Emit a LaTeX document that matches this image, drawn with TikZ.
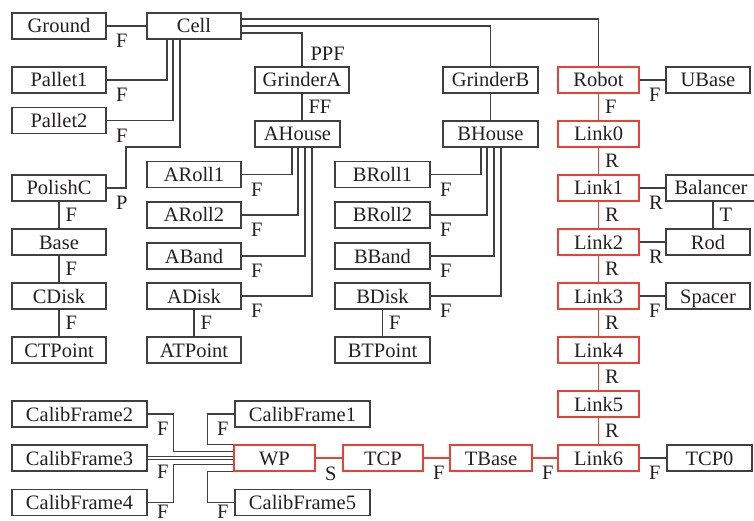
\documentclass[tikz,border=0pt]{standalone}
\usepackage{fontspec}
\setmainfont{Liberation Serif}
\usepackage{tikz}

\definecolor{ink}{RGB}{64,64,64}
\definecolor{txt}{RGB}{35,31,32}
\definecolor{linkred}{RGB}{236,64,52}

\tikzset{
  part/.style={draw=ink, line width=1.1pt, minimum height=26pt, inner sep=0pt,
    text height=14pt, text depth=0pt, text=txt, font=\fontsize{20.5}{24}\selectfont},
  wpart/.style={part, minimum width=94pt},
  rpart/.style={part, minimum width=84pt},
  cpart/.style={part, minimum width=135pt},
  link/.style={part, draw=linkred, minimum width=81pt},
  con/.style={draw=ink, line width=1.1pt},
  rcon/.style={draw=linkred, line width=1.1pt},
  jlab/.style={inner sep=0pt, text=txt, font=\fontsize{20.5}{24}\selectfont},
  hlab/.style={jlab, anchor=north west, xshift=9pt, yshift=-8pt},
  vlab/.style={jlab, anchor=west, xshift=6pt}
}

\begin{document}
\begin{tikzpicture}[x=1pt,y=-1pt]
\useasboundingbox (0,0) rectangle (754,521);
% cell and its left column
\node[wpart] (Ground) at (59,26) {Ground};
\node[wpart] (Cell) at (194,26) {Cell};
\node[wpart] (Pallet1) at (59,80) {Pallet1};
\node[wpart] (Pallet2) at (59,120.5) {Pallet2};
\node[wpart] (PolishC) at (59,188) {PolishC};
\node[wpart] (Base) at (59,242) {Base};
\node[wpart] (CDisk) at (59,296) {CDisk};
\node[wpart] (CTPoint) at (59,350) {CTPoint};
% grinder A
\node[wpart] (GrinderA) at (302,80) {GrinderA};
\node[part, minimum width=85pt] (AHouse) at (297.5,134) {AHouse};
\node[wpart] (ARoll1) at (194,174.5) {ARoll1};
\node[wpart] (ARoll2) at (194,215) {ARoll2};
\node[wpart] (ABand) at (194,256) {ABand};
\node[wpart] (ADisk) at (194,296) {ADisk};
\node[wpart] (ATPoint) at (194,350) {ATPoint};
% grinder B
\node[part, minimum width=95pt] (GrinderB) at (490.5,80) {GrinderB};
\node[part, minimum width=95pt] (BHouse) at (490.5,134) {BHouse};
\node[part, minimum width=95pt] (BRoll1) at (382.5,174.5) {BRoll1};
\node[part, minimum width=95pt] (BRoll2) at (382.5,215) {BRoll2};
\node[part, minimum width=95pt] (BBand) at (382.5,256) {BBand};
\node[part, minimum width=95pt] (BDisk) at (382.5,296) {BDisk};
\node[part, minimum width=95pt] (BTPoint) at (382.5,350) {BTPoint};
% robot
\node[link] (Robot) at (598.5,80) {Robot};
\node[link] (Link0) at (598.5,134) {Link0};
\node[link] (Link1) at (598.5,188) {Link1};
\node[link] (Link2) at (598.5,242) {Link2};
\node[link] (Link3) at (598.5,296) {Link3};
\node[link] (Link4) at (598.5,350) {Link4};
\node[link] (Link5) at (598.5,404) {Link5};
\node[link] (Link6) at (598.5,458) {Link6};
\node[rpart] (UBase) at (708,80) {UBase};
\node[part, minimum width=90pt] (Balancer) at (711,188) {Balancer};
\node[rpart] (Rod) at (708,242) {Rod};
\node[rpart] (Spacer) at (708,296) {Spacer};
\node[part, minimum width=85pt] (TCP0) at (709.5,458) {TCP0};
% tool chain
\node[link] (WP) at (274.5,458) {WP};
\node[link, minimum width=80pt] (TCP) at (383,458) {TCP};
\node[link, minimum width=82pt] (TBase) at (491,458) {TBase};
\node[cpart] (CalibFrame1) at (302.5,414) {CalibFrame1};
\node[cpart] (CalibFrame2) at (79.5,414) {CalibFrame2};
\node[cpart] (CalibFrame3) at (79.5,458) {CalibFrame3};
\node[cpart] (CalibFrame4) at (79.5,502.5) {CalibFrame4};
\node[cpart] (CalibFrame5) at (302.5,502.5) {CalibFrame5};
\coordinate (pbend) at (126,147);

% joints of the cell
\draw[con] (Ground.east) -- node[hlab, pos=0] {F} (Cell.west);
\draw[con] (Pallet1.east) -| node[hlab, pos=0] {F} ([xshift=-27pt]Cell.south);
\draw[con] (Pallet2.east) -| node[hlab, pos=0] {F} ([xshift=-21pt]Cell.south);
\draw[con] (PolishC.east) -| node[hlab, pos=0] {P} (pbend) -| ([xshift=-14pt]Cell.south);
\draw[con] (GrinderA.north) |- node[jlab, pos=0, anchor=south west, xshift=8pt, yshift=5pt] {PPF} ([yshift=-7pt]Cell.east);
\draw[con] (GrinderB.north) |- (Cell.east);
\draw[con] (Robot.north) |- ([yshift=7pt]Cell.east);
\draw[con] (PolishC.south) -- node[vlab] {F} (Base.north);
\draw[con] (Base.south) -- node[vlab] {F} (CDisk.north);
\draw[con] (CDisk.south) -- node[vlab] {F} (CTPoint.north);
% grinder A
\draw[con] (GrinderA.south) -- node[vlab] {FF} (GrinderA.south |- AHouse.north);
\draw[con] (ARoll1.east) -| node[hlab, pos=0] {F} ([xshift=-5.5pt]AHouse.south);
\draw[con] (ARoll2.east) -| node[hlab, pos=0] {F} ([xshift=0.5pt]AHouse.south);
\draw[con] (ABand.east) -| node[hlab, pos=0] {F} ([xshift=7.5pt]AHouse.south);
\draw[con] (ADisk.east) -| node[hlab, pos=0] {F} ([xshift=14.5pt]AHouse.south);
\draw[con] (ADisk.south) -- node[vlab] {F} (ATPoint.north);
% grinder B
\draw[con] (GrinderB.south) -- (BHouse.north);
\draw[con] (BRoll1.east) -| node[hlab, pos=0] {F} ([xshift=-9.5pt]BHouse.south);
\draw[con] (BRoll2.east) -| node[hlab, pos=0] {F} ([xshift=-3.5pt]BHouse.south);
\draw[con] (BBand.east) -| node[hlab, pos=0] {F} ([xshift=3.5pt]BHouse.south);
\draw[con] (BDisk.east) -| node[hlab, pos=0] {F} ([xshift=10.5pt]BHouse.south);
\draw[con] (BDisk.south) -- node[vlab] {F} (BTPoint.north);
% robot arm
\draw[rcon] (Robot.south) -- node[vlab] {F} (Link0.north);
\draw[rcon] (Link0.south) -- node[vlab] {R} (Link1.north);
\draw[rcon] (Link1.south) -- node[vlab] {R} (Link2.north);
\draw[rcon] (Link2.south) -- node[vlab] {R} (Link3.north);
\draw[rcon] (Link3.south) -- node[vlab] {R} (Link4.north);
\draw[rcon] (Link4.south) -- node[vlab] {R} (Link5.north);
\draw[rcon] (Link5.south) -- node[vlab] {R} (Link6.north);
\draw[con] (Robot.east) -- node[hlab, pos=0] {F} (UBase.west);
\draw[con] (Link1.east) -- node[hlab, pos=0] {R} (Balancer.west);
\draw[con] (Link2.east) -- node[hlab, pos=0] {R} (Rod.west);
\draw[con] (Link3.east) -- node[hlab, pos=0] {F} (Spacer.west);
\draw[con] ([xshift=5pt]Rod.north) -- node[vlab] {T} ([xshift=5pt]Rod.north |- Balancer.south);
% tool chain
\draw[rcon] (WP.east) -- node[hlab, pos=0] {S} (TCP.west);
\draw[rcon] (TCP.east) -- node[hlab, pos=0] {F} (TBase.west);
\draw[rcon] (TBase.east) -- node[hlab, pos=0] {F} (Link6.west);
\draw[con] (Link6.east) -- node[hlab, pos=0] {F} (TCP0.west);
\draw[con] (CalibFrame1.west) -- ++(-27,0) node[hlab] {F} |- (WP.north west);
\draw[con] (CalibFrame2.east) -- node[hlab, pos=0] {F} ++(26,0) |- ([yshift=6.5pt]WP.west);
\draw[con] ([yshift=1.5pt]CalibFrame3.east) -- ([yshift=1.5pt]CalibFrame3.east -| WP.west);
\draw[con] ([yshift=-1.5pt]CalibFrame3.east) -- node[hlab, pos=0, yshift=3pt] {F} ([yshift=-1.5pt]CalibFrame3.east -| WP.west);
\draw[con] (CalibFrame4.east) -- node[hlab, pos=0, yshift=6pt] {F} ++(26,0) |- ([yshift=-6.5pt]WP.west);
\draw[con] (CalibFrame5.west) -- ++(-27,0) node[hlab, yshift=6pt] {F} |- (WP.south west);
\end{tikzpicture}
\end{document}
